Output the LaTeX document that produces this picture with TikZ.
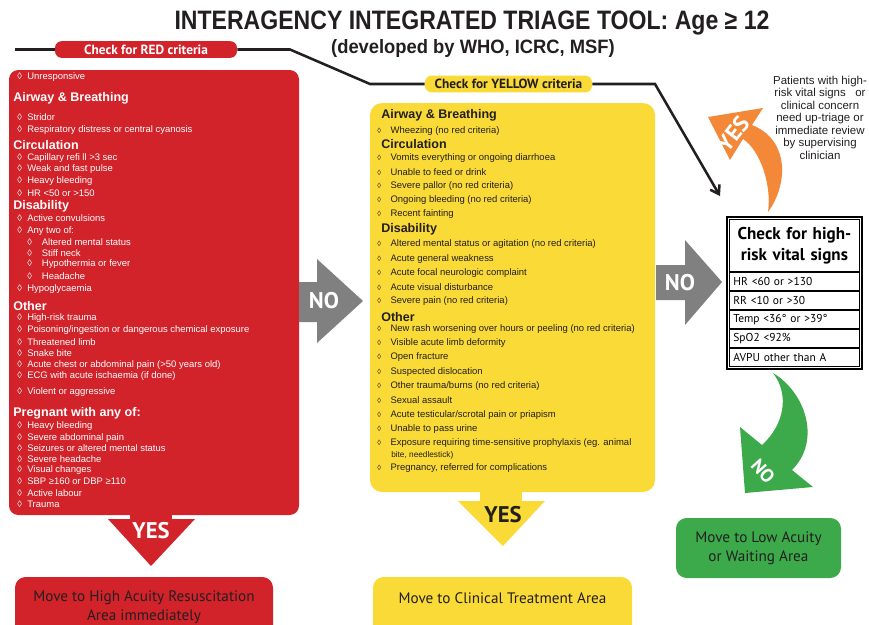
\documentclass[tikz,border=0pt]{standalone}
\usepackage{fontspec}
\setmainfont{Liberation Sans}
\newfontfamily\din{PT Sans}
\usetikzlibrary{positioning,arrows.meta,fit}
\definecolor{triagered}{RGB}{210,34,42}
\definecolor{triageyellow}{RGB}{250,218,55}
\definecolor{triagegreen}{RGB}{60,170,74}
\definecolor{triageorange}{RGB}{243,136,56}
\definecolor{nogray}{RGB}{128,128,128}
\definecolor{ink}{RGB}{35,31,32}
\newcommand{\lz}{\makebox[7.5pt][l]{◊}}
\newcommand{\lzin}{\makebox[11pt][l]{◊}}
\newcommand{\ylz}{\makebox[10pt][l]{\scalebox{0.8}{◊}}}

\begin{document}
\begin{tikzpicture}[x=0.75pt,y=-0.75pt,
  hdr/.style={anchor=west,inner sep=0pt,font=\bfseries\fontsize{9.4}{10}\selectfont},
  itm/.style={anchor=west,inner sep=0pt,font=\fontsize{7.1}{8}\selectfont},
  yitm/.style={anchor=west,inner sep=0pt,text=ink,font=\fontsize{7.1}{8}\selectfont},
  flow/.style={line width=1.9pt,draw=ink},
  critlbl/.style={rounded corners=5pt,inner sep=0pt,minimum height=12.5pt,font=\din\bfseries\fontsize{10}{11}\selectfont},
  result/.style={rounded corners=8pt,align=center,text=ink,minimum height=45pt,font=\din\fontsize{11.4}{14}\selectfont},
  vital/.style={draw,line width=0.6pt,inner xsep=3pt,inner ysep=0pt,text width=91.5pt,minimum height=13.65pt,align=left,font=\din\fontsize{8.6}{10}\selectfont},
  bigword/.style={inner sep=0pt,font=\din\bfseries\fontsize{17}{17}\selectfont}]
\useasboundingbox (0,0) rectangle (869,625);
\clip (0,0) rectangle (869,625);

\node[font=\bfseries\fontsize{20}{22}\selectfont,text=ink] (title) at (472,23)
  {\scalebox{0.865}[1]{INTERAGENCY INTEGRATED TRIAGE TOOL: Age ≥ 12}};
\node[font=\bfseries\fontsize{14.5}{16}\selectfont,text=ink] (subtitle) at (473,48)
  {\scalebox{0.95}[1]{(developed by WHO, ICRC, MSF)}};

\node[critlbl,fill=triagered,text=white,minimum width=136.5pt] (redlbl) at (146,49.5) {Check for RED criteria};
\node[critlbl,fill=triageyellow,text=ink,minimum width=125.25pt] (ylwlbl) at (508.5,84) {Check for YELLOW criteria};
\coordinate (start) at (15,49.5);
\coordinate (vt) at (720,196);
\draw[flow] (start) -- (redlbl);
\draw[flow] (redlbl) -- (290,49.5) -- (370,84) -- (ylwlbl);
\draw[flow,-{Straight Barb[length=6pt,width=8pt]}] (ylwlbl) -- (655,84) -- (vt);

\node[fill=triagered,rounded corners=7pt,minimum width=217.5pt,minimum height=333.75pt,inner sep=0pt] (redbox) at (154,292.5) {};
\foreach \y/\t in {98/Airway \& Breathing,145/Circulation,206/Disability,306/Other,413/Pregnant with any of:}
  \node[hdr,text=white] (rh\y) at (13,\y) {\t};
\foreach \y/\t in {77/Unresponsive,117/Stridor,130/Respiratory distress or central cyanosis,
    158/Capillary refi ll >3 sec,169/Weak and fast pulse,181/Heavy bleeding,193/HR <50 or >150,
    218/Active convulsions,231/Any two of:,289/Hypoglycaemia,
    318/High-risk trauma,330/{Poisoning/ingestion or dangerous chemical exposure},342/Threatened limb,
    353/Snake bite,365/Acute chest or abdominal pain (>50 years old),376/ECG with acute ischaemia (if done),
    392/Violent or aggressive,426/Heavy bleeding,438/Severe abdominal pain,
    448/Seizures or altered mental status,459/Severe headache,470/Visual changes,
    481/SBP ≥160 or DBP ≥110,493/Active labour,504/Trauma}
  \node[itm,text=white] (r\y) at (17,\y) {\lz\t};
\foreach \y/\t in {242/Altered mental status,253/Stiff neck,264/Hypothermia or fever,276/Headache}
  \node[itm,text=white] (ra\y) at (27,\y) {\lzin\t};

\fill[triagered] (130,512) rectangle (172,521);
\fill[triagered] (108,519) -- (195,519) -- (151,566) -- cycle;
\node[bigword,text=white] (yes1) at (151,531) {YES};

\fill[nogray] (299,282) -- (317,282) -- (317,259) -- (363,301) -- (317,343) -- (317,322) -- (299,322) -- cycle;
\node[bigword,text=white] (no1) at (324,301) {NO};

\node[fill=triageyellow,rounded corners=9pt,minimum width=213.75pt,minimum height=291.75pt,inner sep=0pt] (ylwbox) at (512.5,297.5) {};
\foreach \y/\t in {115/Airway \& Breathing,144/Circulation,229/Disability,317/Other}
  \node[hdr,text=ink] (yh\y) at (381,\y) {\t};
\foreach \y/\t in {131/Wheezing (no red criteria),158/Vomits everything or ongoing diarrhoea,
    172/Unable to feed or drink,186/Severe pallor (no red criteria),200/Ongoing bleeding (no red criteria),
    214/Recent fainting,244/Altered mental status or agitation (no red criteria),
    259/Acute general weakness,273/Acute focal neurologic complaint,287/Acute visual disturbance,
    301/Severe pain (no red criteria),329/New rash worsening over hours or peeling (no red criteria),
    343/Visible acute limb deformity,357/Open fracture,372/Suspected dislocation,
    386/{Other trauma/burns (no red criteria)},400/Sexual assault,
    415/{Acute testicular/scrotal pain or priapism},429/Unable to pass urine,
    443/Exposure requiring time-sensitive prophylaxis (eg. animal,468/{Pregnancy, referred for complications}}
  \node[yitm] (y\y) at (377,\y) {\ylz\t};
\node[yitm,font=\fontsize{6.2}{7}\selectfont] (y455) at (391,455) {bite, needlestick)};

\fill[triageyellow] (480,490) rectangle (522,502);
\fill[triageyellow] (458,501) -- (545,501) -- (503,546) -- cycle;
\node[bigword,text=ink] (yes2) at (503,515) {YES};

\fill[nogray] (656,265) -- (685,265) -- (685,240) -- (722,282) -- (685,325) -- (685,300) -- (656,300) -- cycle;
\node[bigword,text=white] (no2) at (680,283) {NO};

\node[vital,font=\din\bfseries\fontsize{12.8}{15.5}\selectfont,align=center,minimum height=39pt,anchor=north west] (vtitle) at (729,219) {Check for high-\\risk vital signs};
\node[vital,below=0pt of vtitle] (vhr) {HR <60 or >130};
\node[vital,below=0pt of vhr] (vrr) {RR <10 or >30};
\node[vital,below=0pt of vrr] (vtemp) {Temp <36° or >39°};
\node[vital,below=0pt of vtemp] (vspo) {SpO2 <92\%};
\node[vital,below=0pt of vspo] (vavpu) {AVPU other than A};
\node[draw,line width=1.8pt,inner sep=1.5pt,fit=(vtitle)(vavpu)] (vbox) {};

\fill[triageorange] (768,212) .. controls (788,185) and (790,140) .. (752,125) -- (763,108) -- (708,117)
  -- (730,160) -- (743,139) .. controls (760,150) and (772,185) .. (768,212) -- cycle;
\node[bigword,text=white,rotate=52] (yes3) at (733,134) {YES};
\node[align=center,text=ink,font=\fontsize{8.6}{9.4}\selectfont] (note) at (820,117.5)
  {Patients  with high-\\risk vital signs~~ or\\clinical concern\\need up-triage or\\immediate review\\by supervising\\clinician};

\fill[triagegreen] (773,373) .. controls (805,392) and (822,440) .. (792,470) -- (813,487) -- (745,493)
  -- (740,427) -- (762,445) .. controls (784,425) and (790,395) .. (773,373) -- cycle;
\node[bigword,text=white,rotate=-48,font=\din\bfseries\fontsize{14}{14}\selectfont] (no3) at (763,471) {NO};

\node[result,fill=triagered,minimum width=193.5pt] (redres) at (144,607) {Move to High Acuity Resuscitation\\Area immediately};
\node[result,fill=triageyellow,minimum width=194.25pt] (ylwres) at (502.5,607) {Move to Clinical Treatment Area\\\mbox{}};
\node[result,fill=triagegreen,minimum width=123.75pt] (grnres) at (758.5,548) {Move to Low Acuity\\or Waiting Area};
\end{tikzpicture}
\end{document}
